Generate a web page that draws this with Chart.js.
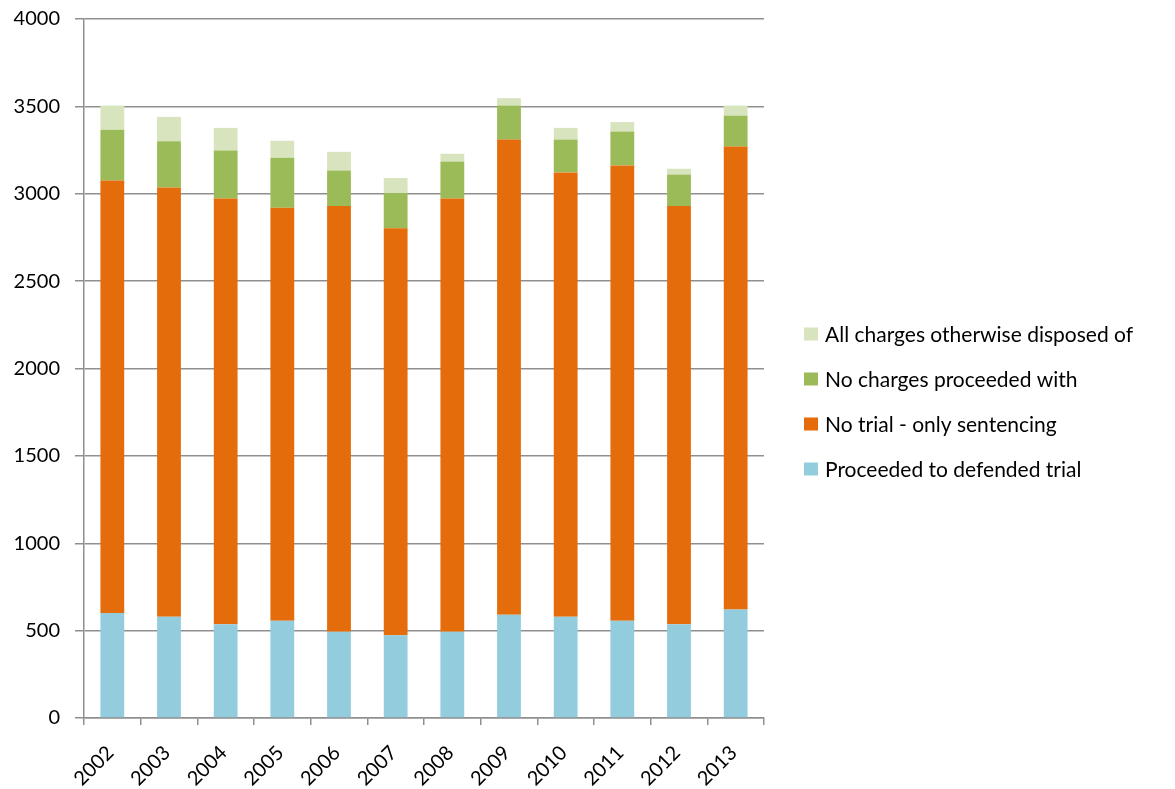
<!DOCTYPE html>
<html>
<head>
<meta charset="utf-8">
<script src="https://cdn.jsdelivr.net/npm/chart.js@4/dist/chart.umd.min.js"></script>
<style>
  html, body { margin: 0; padding: 0; background: #fff; }
  #wrap { width: 1175px; height: 789px; position: relative; }
</style>
</head>
<body>
<div id="wrap"><canvas id="c" width="1175" height="789"></canvas></div>
<script>
const years = ['2002','2003','2004','2005','2006','2007','2008','2009','2010','2011','2012','2013'];
const defendedTrial = [601, 580, 536, 557, 494, 473, 494, 591, 580, 557, 536, 621];
const onlySentencing = [2475, 2456, 2437, 2363, 2436, 2329, 2479, 2719, 2542, 2605, 2394, 2649];
const noChargesProceeded = [290, 265, 274, 286, 203, 202, 212, 195, 188, 194, 180, 177];
const otherwiseDisposed = [139, 139, 130, 97, 107, 86, 44, 42, 67, 54, 33, 58];
const yTicks = [0, 500, 1000, 1500, 2000, 2500, 3000, 3500, 4000];

const FONT = 'Lato, "Open Sans", "DejaVu Sans", sans-serif';
const GRID = '#8f8f8f';

// Legend drawn beside the plot (right side), items in reverse dataset order
const sideLegend = {
  id: 'sideLegend',
  afterDraw(chart) {
    const ctx = chart.ctx;
    const area = chart.chartArea;
    const items = chart.data.datasets.map(d => ({ text: d.label, color: d.backgroundColor })).reverse();
    const boxX = area.right + 40;
    const firstY = area.top + 315;
    const step = 45;
    ctx.save();
    ctx.font = '21px ' + FONT;
    ctx.textBaseline = 'middle';
    ctx.textAlign = 'left';
    items.forEach((it, i) => {
      const cy = firstY + i * step;
      ctx.fillStyle = it.color;
      ctx.fillRect(boxX, cy - 6.5, 14, 13);
      ctx.fillStyle = '#000';
      ctx.fillText(it.text, boxX + 21, cy + 1);
    });
    ctx.restore();
  }
};

new Chart(document.getElementById('c'), {
  type: 'bar',
  data: {
    labels: years,
    datasets: [
      { label: 'Proceeded to defended trial', data: defendedTrial, backgroundColor: '#93CDDD' },
      { label: 'No trial - only sentencing', data: onlySentencing, backgroundColor: '#E46C0A' },
      { label: 'No charges proceeded with', data: noChargesProceeded, backgroundColor: '#9BBB59' },
      { label: 'All charges otherwise disposed of', data: otherwiseDisposed, backgroundColor: '#D7E4BD' }
    ]
  },
  plugins: [sideLegend],
  options: {
    responsive: false,
    animation: false,
    devicePixelRatio: 1,
    layout: { padding: { top: 19, right: 411, bottom: 0, left: 0 } },
    datasets: { bar: { barPercentage: 0.42, categoryPercentage: 1.0, borderWidth: 0 } },
    plugins: {
      tooltip: { enabled: false },
      legend: { display: false }
    },
    scales: {
      x: {
        stacked: true,
        offset: true,
        grid: { offset: true, drawOnChartArea: false, drawTicks: true, tickLength: 7, color: GRID, lineWidth: 1.5 },
        border: { display: true, color: GRID, width: 1.5 },
        ticks: { color: '#000', font: { family: FONT, size: 20 }, maxRotation: 45, minRotation: 45, padding: 16, labelOffset: -2, autoSkip: false },
        afterFit: s => { s.height = 71; }
      },
      y: {
        stacked: true,
        min: 0, max: 4000,
        afterBuildTicks: s => { s.ticks = yTicks.map(v => ({ value: v })); },
        grid: { color: GRID, lineWidth: 1.5, tickLength: 9, drawTicks: true },
        border: { display: true, color: GRID, width: 1.5 },
        ticks: { color: '#000', font: { family: FONT, size: 20 }, padding: 15, callback: v => String(v) },
        afterFit: s => { s.width = 84; s.paddingTop = 0; s.paddingBottom = 0; }
      }
    }
  }
});
</script>
</body>
</html>
